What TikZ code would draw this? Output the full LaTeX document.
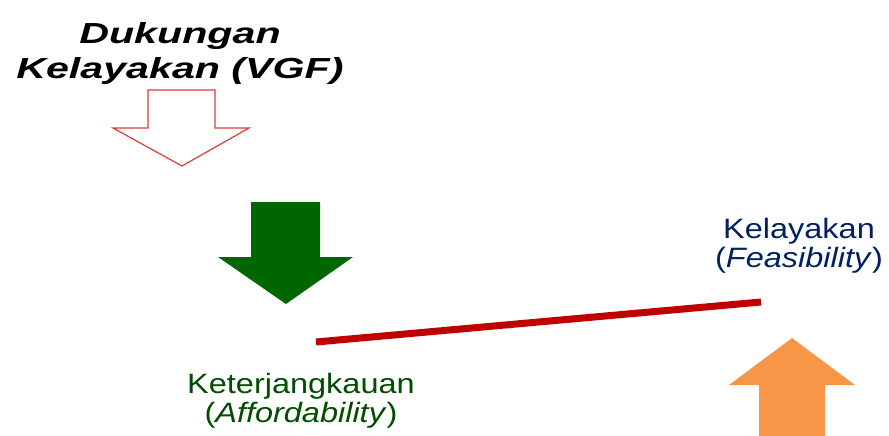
\documentclass[tikz,border=0pt]{standalone}
\usepackage{fontspec}
\setmainfont{Liberation Sans}
\newfontfamily\vgffont[FakeStretch=1.42]{Liberation Sans}
\newfontfamily\lblfont[FakeStretch=1.16]{Liberation Sans}
\definecolor{arrowred}{RGB}{220,60,60}
\definecolor{arrowgreen}{RGB}{0,102,0}
\definecolor{arroworange}{RGB}{247,150,70}
\definecolor{linered}{RGB}{192,0,0}
\definecolor{txtgreen}{RGB}{0,77,0}
\definecolor{txtblue}{RGB}{0,32,96}
\begin{document}
\begin{tikzpicture}[x=1pt,y=-1pt,
  lbl/.style={align=center,inner sep=0pt,anchor=base,font=\lblfont\fontsize{28}{29}\selectfont},
  vgf/.style={align=center,inner sep=0pt,anchor=base,font=\vgffont\fontsize{29}{35}\selectfont\bfseries\itshape}]
\useasboundingbox (0,0) rectangle (889,436);
% title (anchor = baseline of last line)
\node[vgf] (title) at (180,78) {Dukungan\\Kelayakan (VGF)};
% outline arrow (VGF)
\draw[arrowred,line width=1.2pt,line join=miter] (148,90) -- (215,90) -- (215,128) -- (249,128) -- (182,166) -- (113,128) -- (148,128) -- cycle;
% green arrow
\fill[arrowgreen] (251,202) -- (320,202) -- (320,257) -- (353,257) -- (286,304) -- (218,257) -- (251,257) -- cycle;
% orange arrow
\fill[arroworange] (792,338) -- (855,385) -- (825,385) -- (825,436) -- (759,436) -- (759,385) -- (729,385) -- cycle;
% balance line
\coordinate (L) at (316,342);
\coordinate (R) at (761,302);
\draw[linered,line width=7pt] (L) -- (R);
% labels
\node[lbl,text=txtgreen] (afford) at (301,422) {Keterjangkauan\\(\textit{Affordability})};
\node[lbl,text=txtblue] (feas) at (799,267) {Kelayakan\\(\textit{Feasibility})};
\end{tikzpicture}
\end{document}
